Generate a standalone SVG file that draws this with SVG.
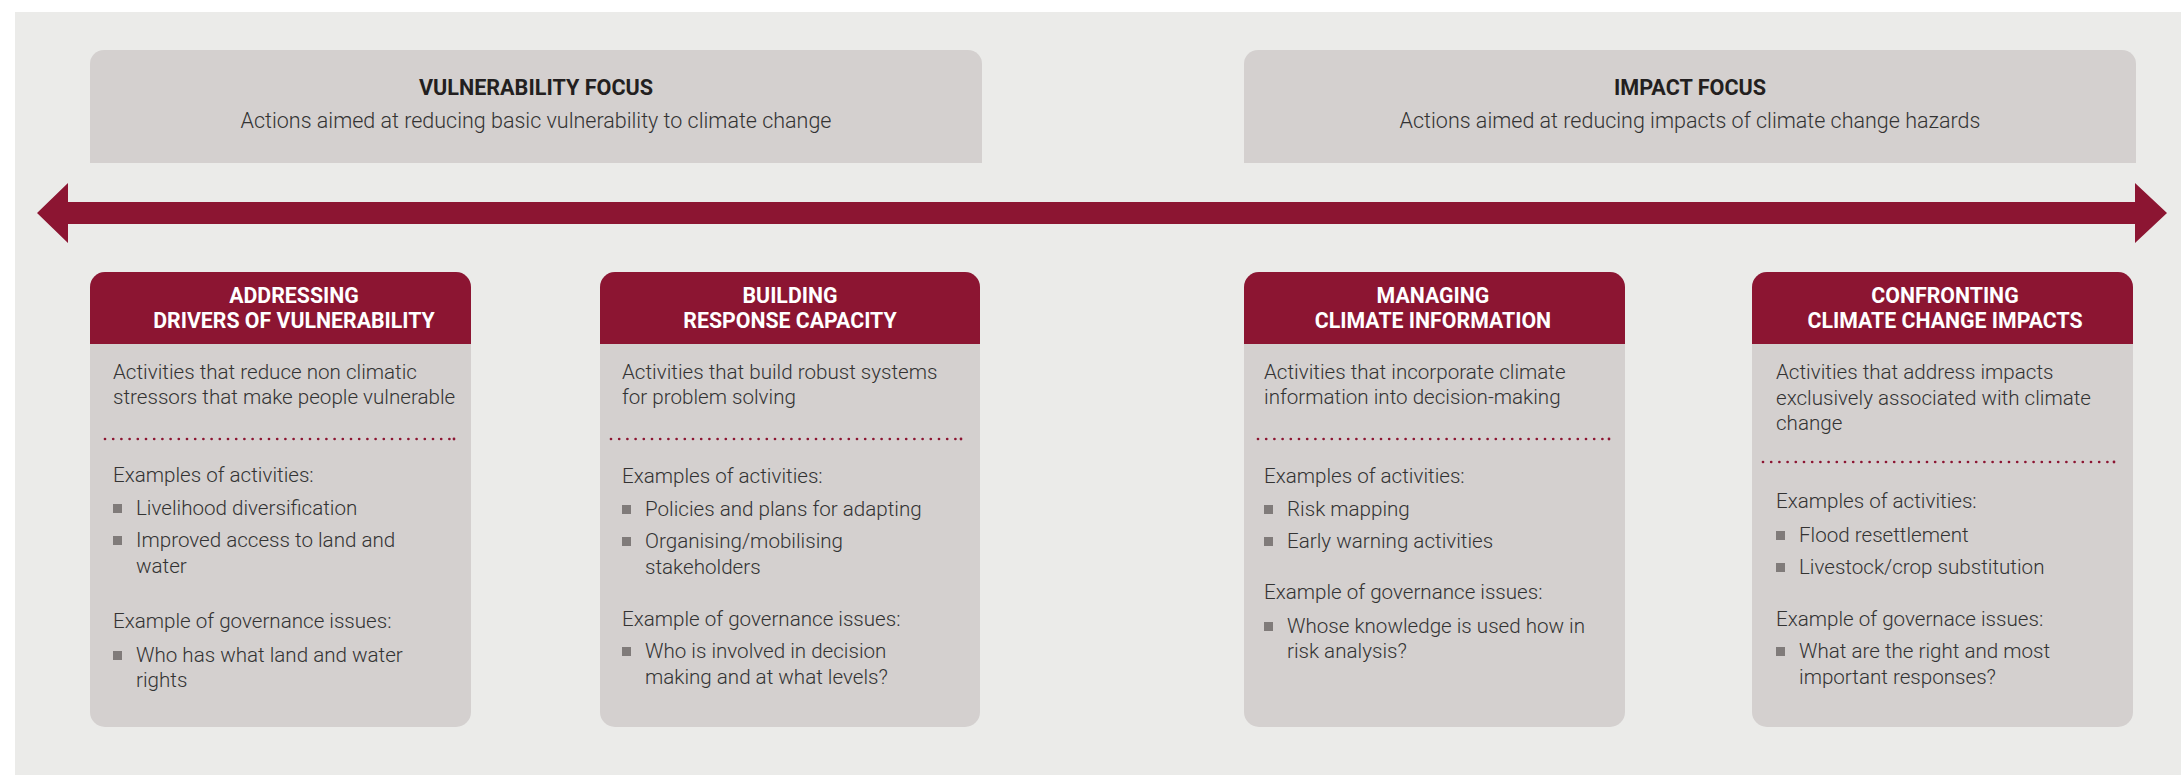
<svg xmlns="http://www.w3.org/2000/svg" width="2181" height="775" viewBox="0 0 2181 775">
<style>
.focus{fill:#d4d0cf}
.ft{font-family:Roboto,"Liberation Sans",sans-serif;font-weight:700;font-size:21.6px;fill:#231f20;text-anchor:middle}
.fs{font-family:Roboto,"Liberation Sans",sans-serif;font-weight:300;font-size:21.5px;fill:#333;text-anchor:middle}
.body{fill:#d4d0cf}
.head{fill:#8c1532}
.ht{font-family:Roboto,"Liberation Sans",sans-serif;font-weight:700;font-size:21.3px;fill:#fff;text-anchor:middle}
.tx{font-family:Roboto,"Liberation Sans",sans-serif;font-weight:300;font-size:20.6px;fill:#333}
.bul{fill:#807b7a}
.dots{stroke:#8c1532;stroke-width:2.7;stroke-linecap:round;stroke-dasharray:0 8.2;fill:none}
.dot{fill:#8c1532}
</style>
<rect x="15" y="12" width="2166" height="763" fill="#ebebe9"/>

<g id="vulnerability-focus">
<path class="focus" d="M90 163V64a14 14 0 0 1 14-14h864a14 14 0 0 1 14 14v99z"/>
<text class="ft" x="536" y="95">VULNERABILITY FOCUS</text>
<text class="fs" x="536" y="128">Actions aimed at reducing basic vulnerability to climate change</text>
</g>

<g id="impact-focus">
<path class="focus" d="M1244 163V64a14 14 0 0 1 14-14h864a14 14 0 0 1 14 14v99z"/>
<text class="ft" x="1690" y="95">IMPACT FOCUS</text>
<text class="fs" x="1690" y="128">Actions aimed at reducing impacts of climate change hazards</text>
</g>

<g id="connectors">
<path fill="#8c1532" d="M37 213L68 183V202H2135V183L2167 213L2135 243V224H68V243z"/>
</g>

<g id="addressing-drivers">
<rect class="body" x="90" y="272" width="381" height="455" rx="15"/>
<path class="head" d="M90 344V287a15 15 0 0 1 15-15h351a15 15 0 0 1 15 15v57z"/>
<text class="ht" x="294" y="303">ADDRESSING</text>
<text class="ht" x="294" y="328">DRIVERS OF VULNERABILITY</text>
<text class="tx" x="113" y="379">Activities that reduce non climatic</text>
<text class="tx" x="113" y="404">stressors that make people vulnerable</text>
<line class="dots" x1="105" y1="439" x2="450" y2="439"/>
<circle class="dot" cx="454" cy="439" r="1.4"/>
<text class="tx" x="113" y="482">Examples of activities:</text>
<rect class="bul" x="113" y="504" width="9" height="9"/>
<text class="tx" x="136" y="515">Livelihood diversification</text>
<rect class="bul" x="113" y="536" width="9" height="9"/>
<text class="tx" x="136" y="547">Improved access to land and</text>
<text class="tx" x="136" y="573">water</text>
<text class="tx" x="113" y="628">Example of governance issues:</text>
<rect class="bul" x="113" y="651" width="9" height="9"/>
<text class="tx" x="136" y="662">Who has what land and water</text>
<text class="tx" x="136" y="687">rights</text>
</g>

<g id="building-capacity">
<rect class="body" x="600" y="272" width="380" height="455" rx="15"/>
<path class="head" d="M600 344V287a15 15 0 0 1 15-15h350a15 15 0 0 1 15 15v57z"/>
<text class="ht" x="790" y="303">BUILDING</text>
<text class="ht" x="790" y="328">RESPONSE CAPACITY</text>
<text class="tx" x="622" y="379">Activities that build robust systems</text>
<text class="tx" x="622" y="404">for problem solving</text>
<line class="dots" x1="611" y1="439" x2="956" y2="439"/>
<circle class="dot" cx="961" cy="439" r="1.4"/>
<text class="tx" x="622" y="483">Examples of activities:</text>
<rect class="bul" x="622" y="505" width="9" height="9"/>
<text class="tx" x="645" y="516">Policies and plans for adapting</text>
<rect class="bul" x="622" y="537" width="9" height="9"/>
<text class="tx" x="645" y="548">Organising/mobilising</text>
<text class="tx" x="645" y="574">stakeholders</text>
<text class="tx" x="622" y="626">Example of governance issues:</text>
<rect class="bul" x="622" y="647" width="9" height="9"/>
<text class="tx" x="645" y="658">Who is involved in decision</text>
<text class="tx" x="645" y="684">making and at what levels?</text>
</g>

<g id="managing-information">
<rect class="body" x="1244" y="272" width="381" height="455" rx="15"/>
<path class="head" d="M1244 344V287a15 15 0 0 1 15-15h351a15 15 0 0 1 15 15v57z"/>
<text class="ht" x="1433" y="303">MANAGING</text>
<text class="ht" x="1433" y="328">CLIMATE INFORMATION</text>
<text class="tx" x="1264" y="379">Activities that incorporate climate</text>
<text class="tx" x="1264" y="404">information into decision-making</text>
<line class="dots" x1="1258" y1="439" x2="1604" y2="439"/>
<circle class="dot" cx="1609" cy="439" r="1.4"/>
<text class="tx" x="1264" y="483">Examples of activities:</text>
<rect class="bul" x="1264" y="505" width="9" height="9"/>
<text class="tx" x="1287" y="516">Risk mapping</text>
<rect class="bul" x="1264" y="537" width="9" height="9"/>
<text class="tx" x="1287" y="548">Early warning activities</text>
<text class="tx" x="1264" y="599">Example of governance issues:</text>
<rect class="bul" x="1264" y="622" width="9" height="9"/>
<text class="tx" x="1287" y="633">Whose knowledge is used how in</text>
<text class="tx" x="1287" y="658">risk analysis?</text>
</g>

<g id="confronting-impacts">
<rect class="body" x="1752" y="272" width="381" height="455" rx="15"/>
<path class="head" d="M1752 344V287a15 15 0 0 1 15-15h351a15 15 0 0 1 15 15v57z"/>
<text class="ht" x="1945" y="303">CONFRONTING</text>
<text class="ht" x="1945" y="328">CLIMATE CHANGE IMPACTS</text>
<text class="tx" x="1776" y="379">Activities that address impacts</text>
<text class="tx" x="1776" y="405">exclusively associated with climate</text>
<text class="tx" x="1776" y="430">change</text>
<line class="dots" x1="1763" y1="462" x2="2109" y2="462"/>
<circle class="dot" cx="2114" cy="462" r="1.4"/>
<text class="tx" x="1776" y="508">Examples of activities:</text>
<rect class="bul" x="1776" y="531" width="9" height="9"/>
<text class="tx" x="1799" y="542">Flood resettlement</text>
<rect class="bul" x="1776" y="563" width="9" height="9"/>
<text class="tx" x="1799" y="574">Livestock/crop substitution</text>
<text class="tx" x="1776" y="626">Example of governace issues:</text>
<rect class="bul" x="1776" y="647" width="9" height="9"/>
<text class="tx" x="1799" y="658">What are the right and most</text>
<text class="tx" x="1799" y="684">important responses?</text>
</g>
</svg>
